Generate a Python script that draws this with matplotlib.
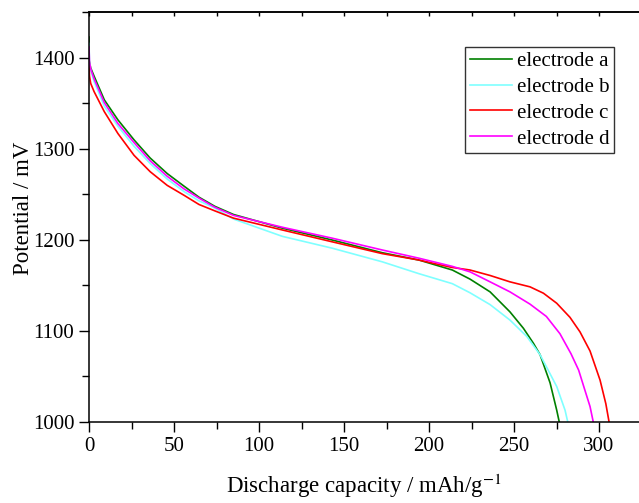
import matplotlib
matplotlib.use("Agg")
from matplotlib import pyplot as plt
from matplotlib.ticker import MultipleLocator

# discharge curves (capacity in mAh/g, potential in mV)
cap_a = [0, 0, 1, 3, 9, 17, 26.5, 36, 46, 56, 64.7, 74, 85, 113.7, 143, 172.5,
         194, 213.7, 224.1, 235.9, 247.6, 255.5, 261.4, 265.3, 271.2, 275.1, 276.6]
pot_a = [1423, 1398, 1389, 1380, 1354, 1332, 1310, 1290, 1273, 1259, 1247, 1237,
         1228, 1213, 1200, 1186, 1178, 1167, 1157, 1143, 1121, 1103, 1086.5, 1074,
         1043, 1013, 1000]

cap_b = [0, 0.3, 1, 3, 9, 17, 26.5, 36, 46, 56, 64.7, 74, 85, 113.7, 143, 172.5,
         194, 213.7, 224.1, 235.9, 247.6, 257.5, 265.3, 275.1, 280, 281.6]
pot_b = [1416, 1395, 1386, 1374, 1347, 1325, 1303, 1284, 1267, 1253, 1243, 1235,
         1223, 1204, 1191, 1176, 1163, 1152, 1142, 1129, 1112, 1094, 1074, 1039,
         1013, 1000]

cap_c = [0, 0.3, 1, 3, 9, 17, 26.5, 36, 46, 56, 64.7, 74, 85, 113.7, 143, 172.5,
         194, 213, 224.1, 235.9, 247.6, 259.4, 267.3, 275.1, 282.9, 288.8, 294.7,
         300.6, 304, 305.9]
pot_c = [1392, 1380, 1372, 1363, 1341, 1317, 1293, 1275, 1260, 1249, 1239, 1232,
         1224, 1211, 1198, 1185, 1178, 1170, 1167, 1161, 1154, 1148.5, 1141.5,
         1130.5, 1115, 1099, 1078, 1046, 1020, 1000]

cap_d = [0, 0.3, 1, 3, 9, 17, 26.5, 36, 46, 56, 64.7, 74, 85, 113.7, 143, 172.5,
         194, 213.7, 224.1, 235.9, 247.6, 259.4, 269, 277, 283.5, 288, 291, 294.7,
         296.6]
pot_d = [1412, 1395, 1388, 1377, 1351, 1328, 1307, 1287, 1270, 1256, 1246, 1236,
         1227, 1214, 1202, 1189, 1180, 1171, 1165, 1154, 1143, 1129.5, 1116, 1097,
         1075, 1057, 1039, 1017, 1000]

labels = ["electrode a", "electrode b", "electrode c", "electrode d"]
colors = ["#008000", "#7fffff", "#ff0000", "#ff00ff"]

plt.rcParams["font.family"] = ["Liberation Serif", "DejaVu Serif"]
plt.rcParams["mathtext.fontset"] = "stix"

fig = plt.figure(figsize=(6.39, 5.03), dpi=100)
ax = fig.add_axes([89 / 639, 81 / 503, 550 / 639, 410 / 503])

series = [(cap_a, pot_a), (cap_b, pot_b), (cap_c, pot_c), (cap_d, pot_d)]
for (x, y), lab, col in zip(series, labels, colors):
    ax.plot(x, y, color=col, lw=1.2, label=lab)

ax.set_xlim(0, 323.5)
ax.set_ylim(1000, 1450.5)
ax.spines["right"].set_visible(False)
for s in ["left", "bottom", "top"]:
    ax.spines[s].set_linewidth(1.1)

ax.xaxis.set_major_locator(MultipleLocator(50))
ax.xaxis.set_minor_locator(MultipleLocator(25))
ax.yaxis.set_major_locator(MultipleLocator(100))
ax.yaxis.set_minor_locator(MultipleLocator(50))
ax.tick_params(which="major", direction="out", length=7, width=1, labelsize=15)
ax.tick_params(which="minor", direction="out", length=5, width=1)

# top axis: inward ticks, no labels
top = ax.secondary_xaxis("top")
top.xaxis.set_major_locator(MultipleLocator(50))
top.xaxis.set_minor_locator(MultipleLocator(25))
top.tick_params(which="both", direction="in", length=3, width=1, labeltop=False)
top.spines["top"].set_linewidth(1.1)

ax.set_xlabel("Discharge capacity / mAh/g$^{-1}$", fontsize=16.5)
ax.set_ylabel("Potential / mV", fontsize=16.5)
ax.xaxis.set_label_coords(0.5, -0.122)
ax.yaxis.set_label_coords(-0.1, 0.52)

leg = ax.legend(loc="upper right", bbox_to_anchor=(0.9545, 0.915),
                borderaxespad=0, fontsize=15, frameon=True, fancybox=False,
                handlelength=2.0, handletextpad=0.25, labelspacing=0.3,
                borderpad=0.22)
leg.get_frame().set_edgecolor("black")
leg.get_frame().set_linewidth(1.0)

fig.savefig("out.png", dpi=100)
